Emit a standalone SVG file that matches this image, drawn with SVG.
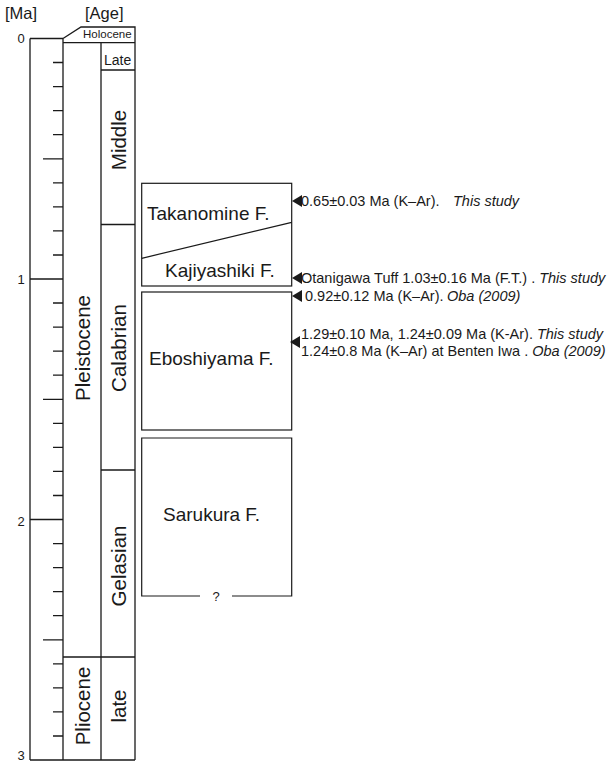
<svg xmlns="http://www.w3.org/2000/svg" xmlns:xlink="http://www.w3.org/1999/xlink" width="607" height="763" viewBox="0 0 607 763">
<style>
text{font-family:"Liberation Sans",Arial,sans-serif;fill:#1a1a1a}
.ln{stroke:#1a1a1a;stroke-width:1.3;fill:none}
.bx{stroke:#1a1a1a;stroke-width:1.2;fill:#fff}
.rot{font-size:20.5px;text-anchor:middle}
.fm{font-size:19px}
.an{font-size:14.5px}
.it{font-style:italic}
.ax{font-size:13px;text-anchor:middle}
.hd{font-size:16.5px}
</style>
<defs>
<polygon id="tri" points="0,0 10,-6 10,6" fill="#1a1a1a"/>
</defs>
<rect width="607" height="763" fill="#fff"/>

<g id="headers">
<text class="hd" x="5" y="19">[Ma]</text>
<text class="hd" x="85" y="19">[Age]</text>
</g>

<g id="ma-scale">
<path class="ln" d="M30,38.5V760 M63,38.5V760 M30,38.5H63 M30,279H63 M30,519.5H63 M30,760H135"/>
<path class="ln" d="M53,62.5H63 M53,86.6H63 M53,110.6H63 M53,134.7H63 M43,158.8H63 M53,182.8H63 M53,206.9H63 M53,230.9H63 M53,255H63
M53,303H63 M53,327.1H63 M53,351.2H63 M53,375.2H63 M43,399.3H63 M53,423.3H63 M53,447.4H63 M53,471.4H63 M53,495.5H63
M53,543.6H63 M53,567.6H63 M53,591.7H63 M53,615.7H63 M43,639.8H63 M53,663.8H63 M53,687.9H63 M53,711.9H63 M53,736H63"/>
<text class="ax" x="21" y="43">0</text>
<text class="ax" x="21" y="284">1</text>
<text class="ax" x="21" y="526">2</text>
<text class="ax" x="21" y="760">3</text>
</g>

<g id="epochs">
<path class="ln" d="M63,38.5L81,27H135V760 M101,42.7V760 M63,42.7H135 M63,657H135"/>
<g id="holocene"><text x="83" y="38" style="font-size:11.5px">Holocene</text></g>
<g id="pleistocene"><text class="rot" transform="translate(90,348) rotate(-90)">Pleistocene</text></g>
<g id="pliocene"><text class="rot" transform="translate(90,706) rotate(-90)">Pliocene</text></g>
</g>

<g id="ages">
<path class="ln" d="M101,70H135 M101,224.5H135 M101,470H135"/>
<g id="late-pleistocene"><text x="104" y="65" style="font-size:14px">Late</text></g>
<g id="middle"><text class="rot" transform="translate(126,140) rotate(-90)">Middle</text></g>
<g id="calabrian"><text class="rot" transform="translate(126,348) rotate(-90)">Calabrian</text></g>
<g id="gelasian"><text class="rot" transform="translate(126,566) rotate(-90)">Gelasian</text></g>
<g id="late-pliocene"><text class="rot" transform="translate(126,706) rotate(-90)">late</text></g>
</g>

<g id="takanomine-kajiyashiki">
<rect class="bx" x="141.7" y="183.3" width="150" height="102.7"/>
<path class="ln" d="M141.7,258.3L291.7,222.3" style="stroke-width:1.2"/>
<text class="fm" x="147" y="220">Takanomine F.</text>
<text class="fm" x="165" y="277">Kajiyashiki F.</text>
</g>

<g id="eboshiyama">
<rect class="bx" x="141.7" y="292" width="150" height="138"/>
<text class="fm" x="149" y="365">Eboshiyama F.</text>
</g>

<g id="sarukura">
<path class="ln" d="M200,596H141.7V438H291.7V596H232" style="stroke-width:1.2"/>
<text class="fm" x="163" y="521">Sarukura F.</text>
<text x="216" y="601" style="font-size:13px;text-anchor:middle">?</text>
</g>

<g id="connectors">
<use xlink:href="#tri" x="292" y="201"/>
<use xlink:href="#tri" x="292" y="278"/>
<use xlink:href="#tri" x="292" y="296"/>
<use xlink:href="#tri" x="290" y="342"/>
</g>

<g id="annotations">
<text class="an" x="301" y="206">0.65±0.03 Ma (K–Ar).<tspan class="it" x="453">This study</tspan></text>
<text class="an" x="301" y="283">Otanigawa Tuff 1.03±0.16 Ma (F.T.) . <tspan class="it">This study</tspan></text>
<text class="an" x="305" y="301">0.92±0.12 Ma (K–Ar).<tspan class="it" x="447">Oba (2009)</tspan></text>
<text class="an" x="301" y="339">1.29±0.10 Ma, 1.24±0.09 Ma (K-Ar). <tspan class="it">This study</tspan></text>
<text class="an" x="301" y="356">1.24±0.8 Ma (K–Ar) at Benten Iwa . <tspan class="it">Oba (2009)</tspan></text>
</g>
</svg>
